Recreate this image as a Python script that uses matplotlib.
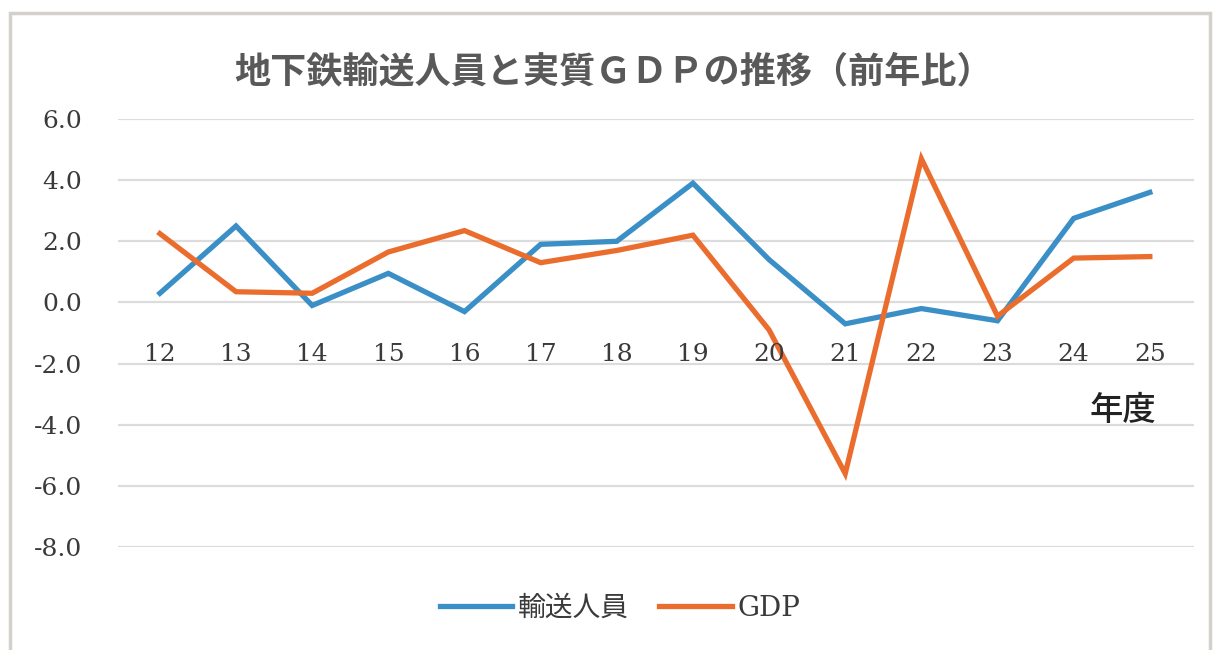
import numpy as np
import matplotlib
matplotlib.use('Agg')
import matplotlib.pyplot as plt
from matplotlib.patches import Rectangle

'データ'
years = ['12', '13', '14', '15', '16', '17', '18', '19', '20', '21', '22', '23', '24', '25']
passengers = [0.3, 2.5, -0.1, 0.95, -0.3, 1.9, 2.0, 3.9, 1.4, -0.7, -0.2, -0.6, 2.75, 3.6]
gdp = [2.25, 0.35, 0.3, 1.65, 2.35, 1.3, 1.7, 2.2, -0.9, -5.6, 4.7, -0.45, 1.45, 1.5]
yticks = [6.0, 4.0, 2.0, 0.0, -2.0, -4.0, -6.0, -8.0]

title = '地下鉄輸送人員と実質ＧＤＰの推移（前年比）'
blue = '#3a8fc7'
orange = '#eb6d2e'

W, H = 1219, 650
fig = plt.figure(figsize=(W / 100, H / 100), dpi=100)
fig.patch.set_facecolor('white')

# 外枠
fig.patches.append(Rectangle((10 / W, -0.05), 1200 / W, 1 - 13 / H + 0.05,
                             transform=fig.transFigure, fill=False,
                             edgecolor='#d4d0cc', lw=2.5))

ax = fig.add_axes([118 / W, 1 - 547 / H, (1194 - 118) / W, (547 - 119) / H])
x = np.arange(len(years))
ax.plot(x, passengers, color=blue, lw=3.8, label='輸送人員', solid_joinstyle='miter')
ax.plot(x, gdp, color=orange, lw=3.8, label='GDP', solid_joinstyle='miter')

ax.set_xlim(-0.55, len(years) - 1 + 0.58)
ax.set_ylim(-8, 6)
ax.set_yticks(yticks)
ax.set_yticklabels(['%.1f' % v for v in yticks], family='DejaVu Serif',
                   fontsize=18, color='#3a3a3a')
ax.tick_params(axis='y', length=0, pad=26)
ax.set_xticks([])
for s in ax.spines.values():
    s.set_visible(False)
ax.grid(axis='y', color='#dcdcdc', lw=1.6)
ax.set_axisbelow(True)

# 横軸ラベル（0線の下）
for i, lab in enumerate(years):
    ax.text(i, -1.7, lab, ha='center', va='center', family='DejaVu Serif',
            fontsize=18, color='#3a3a3a')
ax.text(12.65, -3.54, '年度', ha='center', va='center',
        family='Noto Sans CJK JP', fontsize=24, fontweight='medium', color='#222222')

fig.text(614 / W, 1 - 72 / H, title, ha='center', va='center',
         family='Noto Sans CJK JP', fontsize=26, fontweight='bold', color='#595959')

fig.legend(loc='center', bbox_to_anchor=(620 / W, 1 - 608 / H), ncol=2,
           frameon=False, handlelength=2.6, handletextpad=0.2, columnspacing=1.1,
           prop={'family': ['DejaVu Serif', 'Noto Sans CJK JP'], 'size': 20},
           labelcolor='#3a3a3a')

fig.savefig('out.png', dpi=100)
